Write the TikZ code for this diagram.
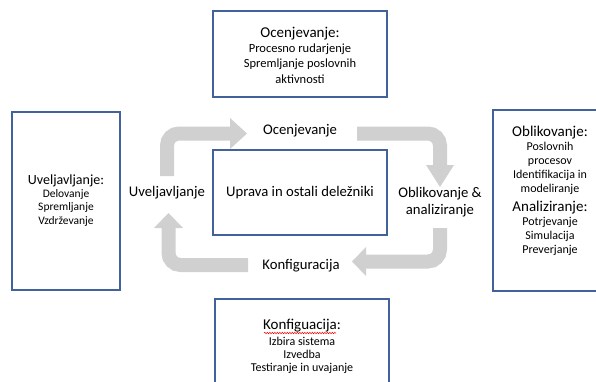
\documentclass[tikz,border=0pt]{standalone}
\usepackage{fontspec}
\setmainfont{Carlito}
\usetikzlibrary{decorations.pathmorphing}
\definecolor{boxblue}{HTML}{41629B}
\definecolor{arrgray}{HTML}{D0D0D0}
\tikzset{
  bluebox/.style={draw=boxblue, line width=1.1pt, fill=white},
  band/.style={draw=arrgray, line width=14pt, rounded corners=12pt},
  headtip/.style={fill=arrgray, draw=none},
  lbl/.style={font=\fontsize{14.7}{17.5}\selectfont, align=center, inner sep=0pt},
  boxtxt/.style={align=center, inner sep=0pt}
}
\newcommand{\hd}[1]{{\fontsize{15}{16}\selectfont #1}}
\begin{document}
\begin{tikzpicture}[x=1pt,y=-1pt]
\useasboundingbox (0,0) rectangle (596,381);
\clip (0,0) rectangle (596,381);
\fill[white] (0,0) rectangle (596,381);
% boxes
\draw[bluebox] (213,11) rectangle (387,97);
\draw[bluebox] (12,112) rectangle (120,290);
\draw[bluebox] (493,110) rectangle (600,291);
\draw[bluebox] (215,299) rectangle (389,390);
\draw[bluebox] (213,150) rectangle (387,235);
% arrows
\draw[band] (167,176) -- (167,133.5) -- (231,133.5);
\fill[headtip] (230,118) -- (247,133.5) -- (230,149) -- cycle;
\draw[band] (357,133.5) -- (440,133.5) -- (440,166);
\fill[headtip] (426,165) -- (440,187) -- (454,165) -- cycle;
\draw[band] (440,228) -- (440,261.5) -- (364,261.5);
\fill[headtip] (366,247) -- (352,261.5) -- (366,276) -- cycle;
\draw[band] (248,265) -- (168.5,265) -- (168.5,227);
\fill[headtip] (154,228) -- (168.5,213) -- (183,228) -- cycle;
% cycle labels
\node[lbl] (oc) at (300,131) {Ocenjevanje};
\node[lbl] (uv) at (167,193) {Uveljavljanje};
\node[lbl] (up) at (300,193) {Uprava in ostali deležniki};
\node[lbl] (ob) at (440,202) {Oblikovanje \&\\analiziranje};
\node[lbl] (ko) at (301,266) {Konfiguracija};
% box texts
\node[boxtxt, font=\fontsize{12.5}{15.3}\selectfont] (t1) at (300,55) {\hd{Ocenjevanje:}\\Procesno rudarjenje\\Spremljanje poslovnih\\aktivnosti};
\node[boxtxt, font=\fontsize{11.5}{13.1}\selectfont] (t2) at (66,200.5) {{\fontsize{14}{15}\selectfont Uveljavljanje:}\\Delovanje\\Spremljanje\\Vzdrževanje};
\node[boxtxt, font=\fontsize{12}{13.8}\selectfont] (t3) at (550,191) {\hd{Oblikovanje:}\\Poslovnih\\procesov\\Identifikacija in\\modeliranje\\[6pt]\hd{Analiziranje:}\\Potrjevanje\\Simulacija\\Preverjanje};
\node[boxtxt, font=\fontsize{12}{12.7}\selectfont] (t4) at (302,346) {\hd{Konfiguacija:}\\[4pt]Izbira sistema\\Izvedba\\Testiranje in uvajanje};
\draw[red, line width=0.5pt, decorate, decoration={snake, amplitude=0.7pt, segment length=2.5pt}] (264,333) -- (336,333);
\end{tikzpicture}
\end{document}
